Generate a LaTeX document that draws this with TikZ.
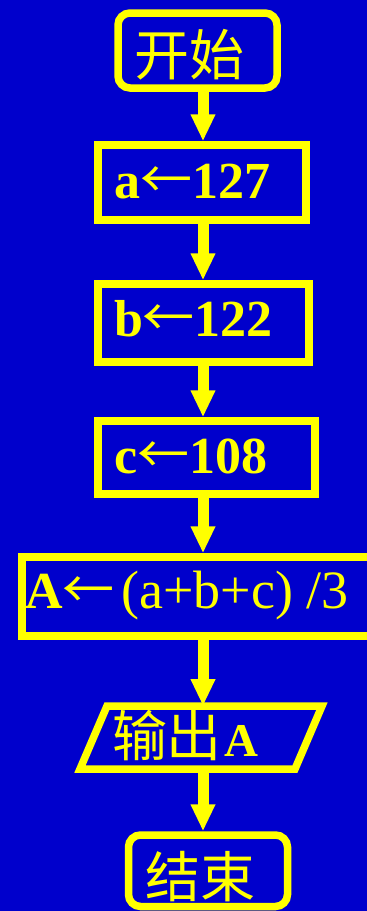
\documentclass[tikz,border=0pt]{standalone}
\usepackage{fontspec}
\setmainfont{Liberation Serif}
\newfontfamily\cjk{Noto Sans CJK SC}
\usetikzlibrary{arrows.meta}
\definecolor{bgblue}{RGB}{0,0,204}
\definecolor{yl}{RGB}{255,255,0}
\newcommand\lbx[3]{\makebox[#1][l]{\hspace*{#2}#3}}
\newcommand\la{{\cjk\mdseries ←}}
\begin{document}
\begin{tikzpicture}[x=1pt,y=-1pt,
  flowbox/.style={draw=yl, line width=7.5pt, inner sep=0pt, text=yl,
    font=\fontsize{52}{52}\selectfont\bfseries},
  termbox/.style={flowbox, rounded corners=12pt,
    font=\fontsize{55}{55}\selectfont\cjk},
  iobox/.style={inner sep=0pt, outer sep=0pt, text=yl},
  paraline/.style={draw=yl, line width=7.5pt, line join=miter},
  flowarrow/.style={draw=yl, line width=11pt, -{Triangle[width=23pt,length=27pt]}}]
\useasboundingbox (0,0) rectangle (367,911);
\fill[bgblue] (0,0) rectangle (367,911);
\clip (0,0) rectangle (367,911);

\node[termbox, minimum width=159pt, minimum height=75pt, text height=50pt, text depth=0pt]
  (start) at (197.5,50.5) {\lbx{159pt}{16pt}{开始}};
\node[flowbox, minimum width=208pt, minimum height=75pt, text height=31pt, text depth=0pt]
  (a) at (202,182.5) {\lbx{208pt}{16pt}{a\la 127}};
\node[flowbox, minimum width=211pt, minimum height=78pt, text height=26pt, text depth=0pt]
  (b) at (203.5,323) {\lbx{211pt}{16pt}{b\la 122}};
\node[flowbox, minimum width=217pt, minimum height=73pt, text height=31pt, text depth=0pt]
  (c) at (206.5,457.5) {\lbx{217pt}{16pt}{c\la 108}};
\node[flowbox, minimum width=362pt, minimum height=79pt, text height=23pt, text depth=0pt]
  (avg) at (203,596.5) {\lbx{362pt}{3pt}{A\la\hspace{7pt}{\mdseries\fontsize{54}{54}\selectfont (a+b+c) /3}}};
\node[iobox, minimum width=242pt, minimum height=63pt, text height=37pt, text depth=0pt]
  (out) at (201,737.5) {\lbx{242pt}{32pt}{{\fontsize{55}{55}\selectfont\cjk 输出}\hspace{3pt}{\fontsize{47}{47}\selectfont\bfseries A}}};
\draw[paraline] ([xshift=27pt]out.north west) -- (out.north east)
  -- ([xshift=-27pt]out.south east) -- (out.south west) -- cycle;
\node[termbox, minimum width=159pt, minimum height=71.5pt, text height=54pt, text depth=0pt]
  (stop) at (208,870.75) {\lbx{159pt}{17pt}{结束}};

\coordinate (ax) at (203,0);
\draw[flowarrow] (ax |- start.south) -- (ax |- a.north);
\draw[flowarrow] (ax |- a.south) -- (ax |- b.north);
\draw[flowarrow] (ax |- b.south) -- (ax |- c.north);
\draw[flowarrow] (ax |- c.south) -- (ax |- avg.north);
\draw[flowarrow] (ax |- avg.south) -- (ax |- out.north);
\draw[flowarrow] (ax |- out.south) -- (ax |- stop.north);
\end{tikzpicture}
\end{document}
